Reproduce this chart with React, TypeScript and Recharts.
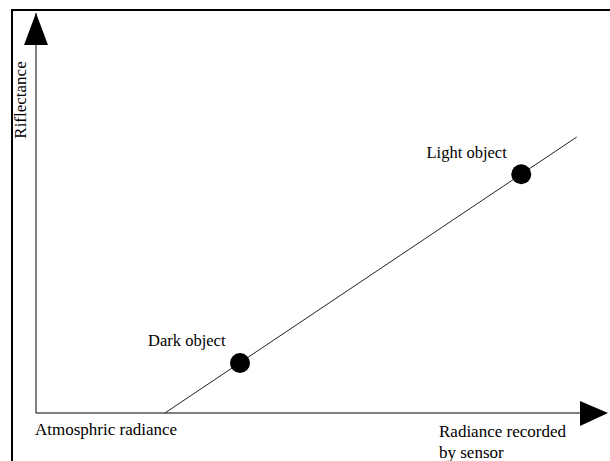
import React from "react";
import {
  ComposedChart,
  Line,
  Scatter,
  XAxis,
  YAxis,
  ReferenceLine,
  LabelList,
} from "recharts";

// radiance line (x = radiance recorded, y = reflectance)
const lineX = [23.7, 99.4];
const lineY = [0, 69];

const objectNames = ["Dark object", "Light object"];
const objectX = [37.5, 89.2];
const objectY = [12.5, 59.7];

const lineData = lineX.map((x, i) => ({ x, y: lineY[i] }));
const objectData = objectX.map((x, i) => ({ x, y: objectY[i], name: objectNames[i] }));

const FONT = "'Liberation Serif', 'Times New Roman', serif";

const ObjectLabel = (props: any) => {
  const { x, y, value } = props;
  return (
    <text x={x - 10} y={y - 12} textAnchor="end" fontFamily={FONT} fontSize={16.5} fill="#000">
      {value}
    </text>
  );
};

export default function App() {
  return (
    <div style={{ position: "absolute", left: 0, top: 0, width: 610, height: 461, background: "#fff" }}>
      <ComposedChart
        width={610}
        height={461}
        margin={{ top: 13, right: 30, bottom: 48, left: 36 }}
      >
        <rect x={12} y={10} width={620} height={470} fill="none" stroke="#000" strokeWidth={2} />
        <XAxis type="number" dataKey="x" domain={[0, 100]} hide />
        <YAxis type="number" dataKey="y" domain={[0, 100]} hide />
        <ReferenceLine x={0} stroke="#000" strokeWidth={1} />
        <ReferenceLine y={0} stroke="#000" strokeWidth={1} />
        <Line
          data={lineData}
          dataKey="y"
          stroke="#222"
          strokeWidth={1}
          dot={false}
          isAnimationActive={false}
        />
        <Scatter data={objectData} dataKey="y" fill="#000" isAnimationActive={false}
          shape={(p: any) => <circle cx={p.cx} cy={p.cy} r={10} fill="#000" />}
        >
          <LabelList dataKey="name" content={<ObjectLabel />} />
        </Scatter>
        <polygon points="36,13 24,45 48,45" fill="#000" />
        <polygon points="608,413 580,401 580,426" fill="#000" />
        <text
          x={26}
          y={100}
          transform="rotate(-90 26 100)"
          textAnchor="middle"
          fontFamily={FONT}
          fontSize={17}
          fill="#000"
        >
          Riflectance
        </text>
        <text x={35} y={435} fontFamily={FONT} fontSize={17} fill="#000">
          Atmosphric radiance
        </text>
        <text x={439} y={437} fontFamily={FONT} fontSize={17} fill="#000">
          Radiance recorded
        </text>
        <text x={439} y={458} fontFamily={FONT} fontSize={17} fill="#000">
          by sensor
        </text>
      </ComposedChart>
    </div>
  );
}
